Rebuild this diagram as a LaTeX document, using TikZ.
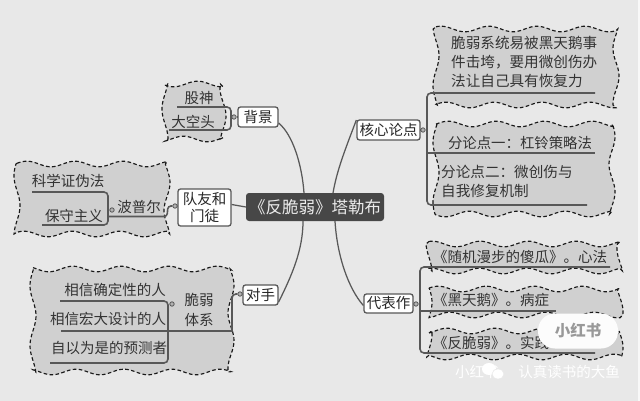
\documentclass[tikz,border=0pt]{standalone}
\usepackage{fontspec}
\setmainfont{Noto Sans CJK SC}
\newcommand{\wavecloud}[4]{% x1 y1 x2 y2
  \draw[cloudshape]
   plot[domain=#1:#3,samples=80,smooth] (\x,{#2+2.8*sin(\x*7.5+#2*7)})
   -- plot[domain=#2:#4,samples=40,smooth] ({#3+3*sin(\x*6.5+#4*3)},\x)
   -- plot[domain=#3:#1,samples=80,smooth] (\x,{#4+2.8*sin(\x*7.5+#4*5)})
   -- plot[domain=#4:#2,samples=40,smooth] ({#1+3*sin(\x*6+#2*4)},\x)
   -- cycle;}
\tikzset{
  cloudshape/.style={fill=cloudgray,draw=black!90,line width=1.15pt,dash pattern=on 3.6pt off 2.4pt},
  branch/.style={draw=linegray,line width=1.6pt,rounded corners=4pt},
  curve/.style={draw=linegray,line width=1.25pt},
  mainbox/.style={draw=linegray,fill=white,line width=1.3pt,rounded corners=2.5pt,inner sep=0pt,font=\fontsize{14.5}{17}\selectfont,text=black!85,align=center},
  leaf/.style={inner sep=0pt,font=\fontsize{14.5}{19}\selectfont,text=black!80,align=left},
  handle/.style={circle,draw=black!65,fill=black!30,line width=.8pt,minimum size=4.4pt,inner sep=0pt},
}
\definecolor{cloudgray}{HTML}{D0D0D0}
\definecolor{linegray}{HTML}{585858}
\definecolor{pagegray}{HTML}{E8E8E8}
\begin{document}
\begin{tikzpicture}[x=1pt,y=-1pt]
\useasboundingbox (0,0) rectangle (640,401);
\fill[white!70!pagegray] (0,0) rectangle (640,401);
\fill[pagegray] (0,0) rectangle (638,401);
% clouds
\wavecloud{165}{84}{223}{139}
\wavecloud{17}{164}{167}{234}
\wavecloud{33}{269}{231}{372}
\wavecloud{436}{29}{616}{105}
\wavecloud{436}{124}{612}{214}
\wavecloud{429}{244}{620}{271}
\wavecloud{429}{289}{620}{315}
\wavecloud{429}{331}{620}{357}
% main nodes
\node[mainbox,minimum width=40pt,minimum height=20pt] (bg) at (258,117) {背景};
\node[mainbox,minimum width=53pt,minimum height=37pt] (team) at (204.5,207.5) {队友和\\门徒};
\node[mainbox,minimum width=35pt,minimum height=20pt] (opp) at (260.5,295) {对手};
\node[mainbox,minimum width=63pt,minimum height=20pt] (core) at (388.5,130) {核心论点};
\node[mainbox,minimum width=49pt,minimum height=19pt] (works) at (388.5,303.5) {代表作};
\node[fill=black!72,rounded corners=3pt,minimum width=138pt,minimum height=28pt,inner sep=0pt,text=white!92!black,font=\fontsize{16.5}{18}\selectfont] (hub) at (315,207) {《反脆弱》塔勒布};
% named points on the hub
\coordinate (hubA) at (304,193);
\coordinate (hubB) at (303,221);
\coordinate (hubC) at (333,193);
\coordinate (hubD) at (335,221);
% curves
\draw[curve] (bg.east) ++(0,6) .. controls (293,135) and (302,165) .. (hubA);
\draw[curve] (hubB) .. controls (303,250) and (292,275) .. ([yshift=-7pt]opp.east);
\draw[curve] ([yshift=10pt]core.west) .. controls (345,150) and (337,170) .. (hubC);
\draw[curve] (hubD) .. controls (337,255) and (348,288) .. ([yshift=-2pt]works.west);
\draw[curve] (team.east) ++(0,-3) -- (hub.west);
% handles
\node[handle] (hBg) at (234,117) {};
\node[handle] (hTeam) at (175,206) {};
\node[handle] (hOpp) at (240,294) {};
\node[handle] (hCore) at (423,130) {};
\node[handle] (hWorks) at (416,304) {};
\node[handle] (hPop) at (112,210) {};
\node[handle] (hBrit) at (172,304) {};
% 背景 branch
\node[leaf] (n1) at (199,98) {股神};
\node[leaf] (n2) at (193,122) {大空头};
\coordinate (a1) at (177,107);\coordinate (a2) at (231,107);\coordinate (a3) at (231,130);\coordinate (a4) at (169,130);
\draw[branch] (a1) -- (a2) -- (a3) -- (a4);
% 队友 branch
\node[leaf] (n3) at (68,181) {科学证伪法};
\node[leaf] (n4) at (74,216) {保守主义};
\node[leaf] (n5) at (139,207) {波普尔};
\coordinate (b1) at (32,192);\coordinate (b2) at (108,192);\coordinate (b3) at (108,225);\coordinate (b4) at (42,225);
\draw[branch] (b1) -- (b2) -- (b3) -- (b4);
\coordinate (b5) at (108,216.5);\coordinate (b6) at (167,216.5);\coordinate (b7) at (168,206);
\draw[branch,rounded corners=3pt] (b5) -- (b6) -- (b7) -- (hTeam);
% 对手 branch
\node[leaf] (n6) at (115,290) {相信确定性的人};
\node[leaf] (n7) at (108,319) {相信宏大设计的人};
\node[leaf] (n8) at (109,348) {自以为是的预测者};
\node[leaf,align=center] (n9) at (199,310) {脆弱\\[1pt]体系};
\coordinate (c1) at (60,301);\coordinate (c2) at (168,301);\coordinate (c3) at (168,363);\coordinate (c4) at (50,363);
\draw[branch] (c1) -- (c2) -- (c3) -- (c4);
\coordinate (c5) at (61,331);\coordinate (c6) at (232,331);\coordinate (c7) at (232,294);
\draw[branch,line width=1.2pt] (c5) -- (c6);
\draw[branch] (c6) -- (c7) -- (hOpp);
% 核心论点 branch
\node[leaf,anchor=west,font=\fontsize{14.6}{19}\selectfont] (n10) at (451,62) {脆弱系统易被黑天鹅事\\件击垮，要用微创伤办\\法让自己具有恢复力};
\node[leaf,font=\fontsize{14.4}{19}\selectfont] (n11) at (520,143) {分论点一：杠铃策略法};
\node[leaf,anchor=west,font=\fontsize{14.6}{19}\selectfont] (n12) at (441,181.5) {分论点二：微创伤与\\自我修复机制};
\coordinate (d1) at (595,93);\coordinate (d2) at (427,93);\coordinate (d3) at (427,205);\coordinate (d4) at (587,205);
\draw[branch] (d1) -- (d2) -- (d3) -- (d4);
\coordinate (d5) at (427,153);\coordinate (d6) at (595,153);
\draw[branch,rounded corners=0pt] (d5) -- (d6);
\draw[branch] (hCore) -- (d2 |- hCore);
% 代表作 branch
\node[leaf,anchor=west] (n13) at (433,257) {《随机漫步的傻瓜》。心法};
\node[leaf,anchor=west] (n14) at (433,300) {《黑天鹅》。病症};
\node[leaf,anchor=west] (n15) at (433,343) {《反脆弱》。实践};
\coordinate (e1) at (610,267);\coordinate (e2) at (420,267);\coordinate (e3) at (420,353);\coordinate (e4) at (595,353);
\draw[branch] (e1) -- (e2) -- (e3) -- (e4);
\coordinate (e5) at (420,311);\coordinate (e6) at (556,311);
\draw[branch,rounded corners=0pt] (e5) -- (e6);
\draw[branch] (hWorks) -- (e2 |- hWorks);
% handle stubs
\draw[curve] (hBg) -- (bg);
\draw[curve] (hTeam) -- (team);
\draw[curve] (hOpp) -- (opp);
\draw[curve] (hCore) -- (core);
\draw[curve] (hWorks) -- (works);
\draw[branch] (a2 |- hBg) -- (hBg);
% watermarks
\node[fill=white!88!pagegray,rounded corners=17pt,minimum width=80pt,minimum height=35pt,inner sep=0pt,text=black!40,font=\fontsize{15.5}{16}\bfseries\selectfont] (mark) at (578,331) {小红书};
\node[inner sep=0pt,text=white,font=\fontsize{14.5}{16}\selectfont,anchor=west] (m1) at (455,372) {小红书};
\node[inner sep=0pt,text=white,font=\fontsize{14.5}{16}\selectfont,anchor=east] (m2) at (620,372) {认真读书的大鱼};
\fill[white] (489,369) ellipse (7pt and 6pt);
\fill[white,draw=pagegray,line width=.6pt] (498,374) ellipse (6pt and 5pt);
\end{tikzpicture}
\end{document}
